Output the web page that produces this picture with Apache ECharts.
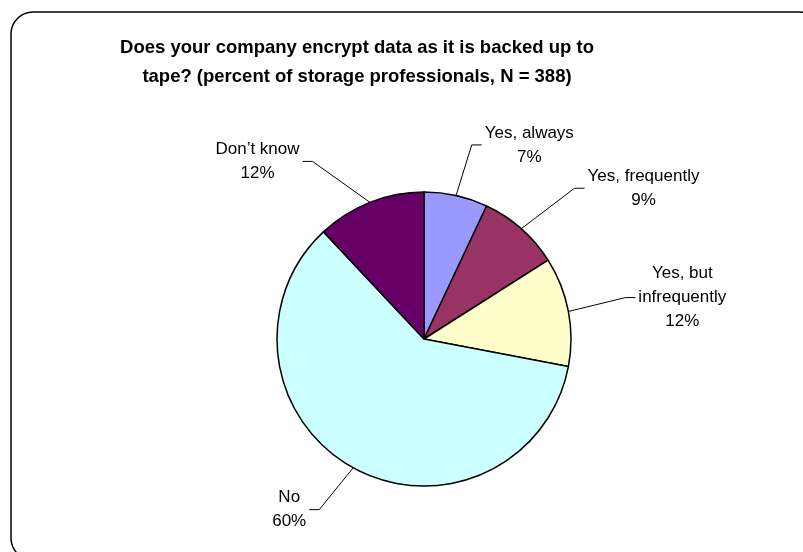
<!DOCTYPE html>
<html>
<head>
<meta charset="utf-8">
<script src="https://cdn.jsdelivr.net/npm/echarts@6/dist/echarts.min.js"></script>
<style>
html,body{margin:0;padding:0;background:#fff;}
#chart{width:803px;height:552px;}
</style>
</head>
<body>
<div id="chart"></div>
<script>
var titleLines = ['Does your company encrypt data as it is backed up to', 'tape? (percent of storage professionals, N = 388)'];
var categories = ['Yes, always', 'Yes, frequently', 'Yes, but\ninfrequently', 'No', 'Don\u2019t know'];
var percents = [7, 9, 12, 60, 12];
var colors = ['#9999FF', '#993366', '#FFFFCC', '#CCFFFF', '#660066'];
// small label nudges (dx, dy) relative to the library's own outside-label placement
var labelNudges = [[3, 6], [15, 3], [0, -3], [-6, -9], [-36, 13]];

var FONT = '"Liberation Sans", Arial, sans-serif';
var PIE_CENTER = [424, 339];
var chart = echarts.init(document.getElementById('chart'), null, {renderer: 'canvas'});

var data = categories.map(function (c, i) {
  return {name: c, value: percents[i], itemStyle: {color: colors[i]}};
});

chart.setOption({
  backgroundColor: '#ffffff',
  animation: false,
  title: {
    text: titleLines.join('\n'),
    left: 352,
    top: 28,
    textAlign: 'center',
    textStyle: {fontFamily: FONT, fontSize: 18.5, fontWeight: 'bold', color: '#000', lineHeight: 29}
  },
  graphic: [{
    type: 'rect',
    shape: {x: 11, y: 12, width: 810, height: 548, r: 22},
    style: {fill: 'none', stroke: '#000', lineWidth: 1.5},
    silent: true,
    z: -1
  }],
  series: [{
    type: 'pie',
    center: PIE_CENTER,
    radius: 147,
    startAngle: 90,
    clockwise: true,
    avoidLabelOverlap: true,
    data: data,
    itemStyle: {borderColor: '#000', borderWidth: 1.5},
    emphasis: {disabled: true},
    label: {
      show: true,
      position: 'outside',
      distanceToLabelLine: 3,
      formatter: function (p) {
        var lines = p.name.split('\n');
        lines.push(p.value + '%');
        return lines.map(function (l) { return '{c|' + l + '}'; }).join('\n');
      },
      rich: {
        c: {fontFamily: FONT, fontSize: 17, color: '#000', align: 'center', lineHeight: 24}
      }
    },
    labelLine: {
      show: true,
      length: 58,
      length2: 10,
      lineStyle: {color: '#000', width: 1}
    },
    labelLayout: function (params) {
      var r = params.labelRect;
      var n = labelNudges[params.dataIndex] || [0, 0];
      var cx = r.x + r.width / 2 + n[0];
      var cy = r.y + r.height / 2 + n[1];
      var onRight = cx > PIE_CENTER[0];
      var endX = onRight ? cx - r.width / 2 - 3 : cx + r.width / 2 + 3;
      var elbowX = onRight ? endX - 10 : endX + 10;
      var p0 = params.labelLinePoints ? params.labelLinePoints[0] : [cx, cy];
      return {
        x: cx,
        y: cy,
        align: 'center',
        verticalAlign: 'middle',
        labelLinePoints: [p0, [elbowX, cy], [endX, cy]]
      };
    }
  }]
});
</script>
</body>
</html>
